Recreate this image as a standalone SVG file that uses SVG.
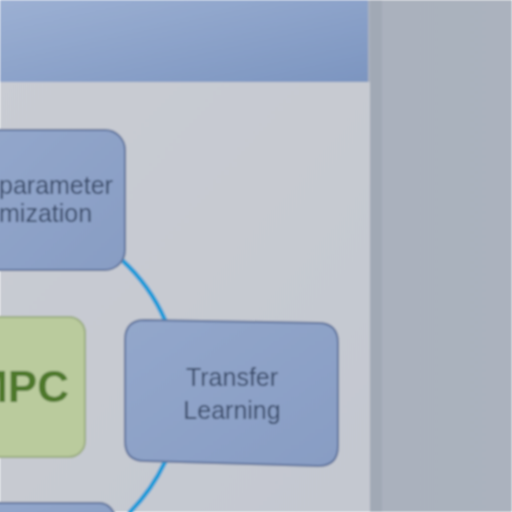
<svg xmlns="http://www.w3.org/2000/svg" width="512" height="512" viewBox="0 0 512 512">
<defs>
<linearGradient id="banner" x1="0" y1="0" x2="1" y2="1">
<stop offset="0" stop-color="#9cb0d3"/>
<stop offset="1" stop-color="#7c95c0"/>
</linearGradient>
<linearGradient id="slide" x1="0" y1="0" x2="1" y2="1">
<stop offset="0" stop-color="#c9ccd3"/>
<stop offset="1" stop-color="#c4c8d0"/>
</linearGradient>
<linearGradient id="side" x1="0" y1="0" x2="1" y2="0">
<stop offset="0" stop-color="#a7aebb"/>
<stop offset="1" stop-color="#abb2be"/>
</linearGradient>
<linearGradient id="blueNode" x1="0" y1="0" x2="1" y2="1">
<stop offset="0" stop-color="#93a7cb"/>
<stop offset="1" stop-color="#889dc4"/>
</linearGradient>
<filter id="soft" x="-5%" y="-5%" width="110%" height="110%"><feGaussianBlur stdDeviation="0.8"/></filter>
</defs>
<style>
.box{fill:url(#blueNode);stroke:#5f739c;stroke-width:2}
.green{fill:#bacb9d;stroke:#9bad82;stroke-width:2}
.lbl{font-family:"Liberation Sans",Arial,sans-serif;font-size:25px;fill:#374968}
.big{font-family:"Liberation Sans",Arial,sans-serif;font-weight:bold;font-size:44px;fill:#4d782a}
.conn{fill:none;stroke:#1f9bd8;stroke-width:4.5;stroke-linecap:round}
</style>
<g filter="url(#soft)">
<rect x="0" y="0" width="512" height="512" fill="url(#side)"/>
<rect x="0" y="82" width="370" height="430" fill="url(#slide)"/>
<rect x="0" y="0" width="368" height="82" fill="url(#banner)"/>
<rect x="370" y="0" width="12" height="512" fill="#9da5b2" opacity="0.7"/>
<g id="connectors">
<path class="conn" d="M 122 260 A 179 179 0 0 1 165 320"/>
<path class="conn" d="M 165 462 A 179 179 0 0 1 130 512"/>
</g>
<g id="node-hyperparameter">
<rect class="box" x="-20" y="130" width="145" height="140" rx="20"/>
<text class="lbl" x="-1" y="194">parameter</text>
<text class="lbl" x="-1" y="222">mization</text>
</g>
<g id="node-mpc">
<rect class="green" x="-20" y="317" width="105" height="140" rx="16"/>
<text class="big" x="69" y="402" text-anchor="end">MPC</text>
</g>
<g id="node-transfer">
<path class="box" d="M 145 320 L 318 323 Q 338 323 338 343 L 338 446 Q 338 466 318 466 L 145 461 Q 125 461 125 441 L 125 340 Q 125 320 145 320 Z"/>
<text class="lbl" x="232" y="386" text-anchor="middle">Transfer</text>
<text class="lbl" x="232" y="419" text-anchor="middle">Learning</text>
</g>
<g id="node-bottom">
<rect class="box" x="-20" y="503" width="135" height="40" rx="16"/>
</g>
</g>
</svg>
